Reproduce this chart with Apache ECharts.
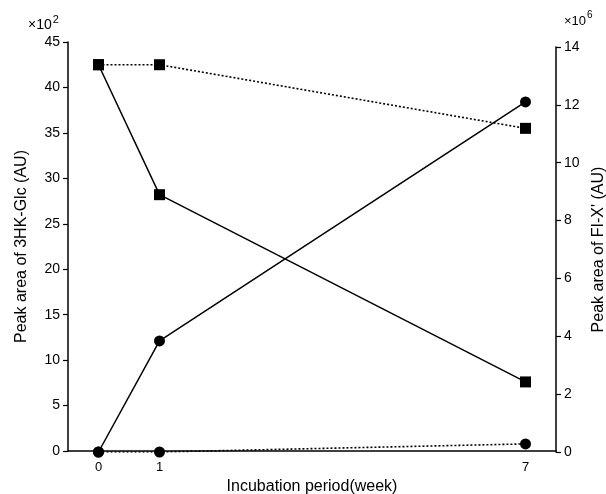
<!DOCTYPE html>
<html>
<head>
<meta charset="utf-8">
<script src="https://cdn.jsdelivr.net/npm/echarts@6/dist/echarts.min.js"></script>
<style>html,body{margin:0;padding:0;background:#fff;}#c{width:606px;height:494px;}</style>
</head>
<body>
<div id="c"></div>
<script>
// Data
var weeks = [0, 1, 7];
var xTickValues = [0, 1, 7];
var hkGlcSolid = [42.5, 28.2, 7.6];    // left axis (x10^2)
var hkGlcDotted = [42.5, 42.5, 35.5];  // left axis (x10^2)
var fixSolid = [0, 3.84, 12.1];        // right axis (x10^6)
var fixDotted = [0, 0, 0.28];          // right axis (x10^6)
var leftAxis = {min: 0, max: 45, interval: 5};
var rightAxis = {min: 0, max: 14, interval: 2};

function pairs(xs, ys) { return xs.map(function (x, i) { return [x, ys[i]]; }); }

var FONT = 'Liberation Sans';
var chart = echarts.init(document.getElementById('c'), null, {renderer: 'canvas'});
var lineStyleSolid = {color: '#000', width: 1.5, type: 'solid'};
var lineStyleDot = {color: '#000', width: 1.6, type: [2, 2]};
var option = {
  animation: false,
  backgroundColor: '#fff',
  textStyle: {fontFamily: FONT, color: '#000'},
  grid: [
    {left: 68, right: 50, top: 42, bottom: 43, containLabel: false, outerBoundsMode: 'none'},
    {left: 68, right: 50, top: 47, bottom: 42, containLabel: false, outerBoundsMode: 'none'}
  ],
  xAxis: [
    {
      type: 'value', gridIndex: 0, min: -0.5, max: 7.5,
      axisLine: {show: true, onZero: false, lineStyle: {color: '#000', width: 1.5}},
      axisTick: {show: false},
      splitLine: {show: false},
      axisLabel: {customValues: xTickValues, color: '#000', fontSize: 13, fontFamily: FONT, margin: 10},
      name: 'Incubation period(week)', nameLocation: 'middle', nameGap: 26,
      nameTextStyle: {fontSize: 16, color: '#000', fontFamily: FONT}
    },
    {
      type: 'value', gridIndex: 1, min: -0.5, max: 7.5, show: false,
      axisLine: {onZero: false}
    }
  ],
  yAxis: [
    {
      type: 'value', gridIndex: 0, position: 'left',
      min: leftAxis.min, max: leftAxis.max, interval: leftAxis.interval,
      axisLine: {show: true, onZero: false, lineStyle: {color: '#000', width: 1.5}},
      axisTick: {show: true, inside: false, length: 5, lineStyle: {color: '#000', width: 1.2}},
      splitLine: {show: false},
      axisLabel: {color: '#000', fontSize: 14, fontFamily: FONT, margin: 8},
      name: 'Peak area of 3HK-Glc (AU)', nameLocation: 'middle', nameGap: 38,
      nameTextStyle: {fontSize: 16, color: '#000', fontFamily: FONT}
    },
    {
      type: 'value', gridIndex: 1, position: 'right',
      min: rightAxis.min, max: rightAxis.max, interval: rightAxis.interval,
      axisLine: {show: true, onZero: false, lineStyle: {color: '#000', width: 1.5}},
      axisTick: {show: true, inside: false, length: 5, lineStyle: {color: '#000', width: 1.2}},
      splitLine: {show: false},
      axisLabel: {color: '#000', fontSize: 14, fontFamily: FONT, margin: 8},
      name: "Peak area of FI-X' (AU)", nameLocation: 'middle', nameGap: 29,
      nameRotate: 90,
      nameTextStyle: {fontSize: 16, color: '#000', fontFamily: FONT}
    }
  ],
  series: [
    {type: 'line', xAxisIndex: 0, yAxisIndex: 0, data: pairs(weeks, hkGlcDotted),
     symbol: 'rect', symbolSize: 11, itemStyle: {color: '#000'}, lineStyle: lineStyleDot, z: 3},
    {type: 'line', xAxisIndex: 0, yAxisIndex: 0, data: pairs(weeks, hkGlcSolid),
     symbol: 'rect', symbolSize: 11, itemStyle: {color: '#000'}, lineStyle: lineStyleSolid, z: 3},
    {type: 'line', xAxisIndex: 1, yAxisIndex: 1, data: pairs(weeks, fixDotted),
     symbol: 'circle', symbolSize: 11, itemStyle: {color: '#000'}, lineStyle: lineStyleDot, z: 3},
    {type: 'line', xAxisIndex: 1, yAxisIndex: 1, data: pairs(weeks, fixSolid),
     symbol: 'circle', symbolSize: 11, itemStyle: {color: '#000'}, lineStyle: lineStyleSolid, z: 3}
  ],
  graphic: [
    {type: 'text', left: 28, top: 14, style: {
      text: '{a|×10}{s|2}', fill: '#000',
      rich: {a: {fontSize: 14, fontFamily: FONT, verticalAlign: 'bottom', lineHeight: 18},
             s: {fontSize: 11, fontFamily: FONT, verticalAlign: 'top', lineHeight: 18, padding: [0, 0, 7, 1]}}
    }},
    {type: 'text', left: 564, top: 10, style: {
      text: '{a|×10}{s|6}', fill: '#000',
      rich: {a: {fontSize: 13, fontFamily: FONT, verticalAlign: 'bottom', lineHeight: 18},
             s: {fontSize: 10, fontFamily: FONT, verticalAlign: 'top', lineHeight: 18, padding: [0, 0, 7, 1]}}
    }}
  ]
};
chart.setOption(option);
</script>
</body>
</html>
